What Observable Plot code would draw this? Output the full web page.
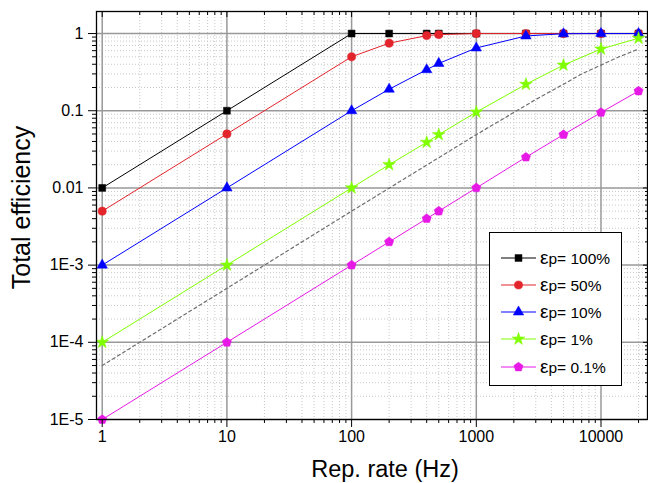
<!DOCTYPE html>
<html><head><meta charset="utf-8">
<script src="https://cdn.jsdelivr.net/npm/d3@7"></script>
<script src="https://cdn.jsdelivr.net/npm/@observablehq/plot@0.6"></script>
<style>
body{margin:0;background:#fff;font-family:"Liberation Sans",Arial,sans-serif}
#wrap{position:relative;width:648px;height:483px}
#legend{position:absolute;left:489px;top:232px;width:131px;height:152px;border:1px solid #000;background:#fff}
.row{position:absolute;left:0;height:20px;width:131px}
.row svg{position:absolute;left:0;top:0}
.row span{position:absolute;left:50px;top:0px;font-size:15.5px;line-height:20px;color:#000;white-space:nowrap}
.row span b{font-weight:normal;font-size:19px}
</style>
</head><body><div id="wrap"><div id="legend"></div></div>
<script>
// ---- data ----
const xs = [1, 10, 100, 200, 400, 500, 1000, 2500, 5000, 10000, 20000];
const eff100 = [0.01, 0.1, 1, 1, 1, 1, 1, 1, 1, 1, 1];
const eff50 = [0.005, 0.05, 0.5, 0.75, 0.94, 0.97, 1, 1, 1, 1, 1];
const eff10 = [0.001, 0.01, 0.1, 0.19, 0.34, 0.41, 0.65, 0.93, 0.995, 1, 1];
const eff1 = [1e-4, 1e-3, 0.01, 0.02, 0.039, 0.049, 0.096, 0.22, 0.39, 0.63, 0.87];
const eff01 = [1e-5, 1e-4, 1e-3, 2e-3, 4e-3, 5e-3, 0.01, 0.025, 0.049, 0.095, 0.18];
const refX = [1, 10, 100, 1000, 2000, 3000, 5000, 7000, 10000, 14000, 20000];
const refY = [5e-5, 5e-4, 0.005, 0.049, 0.095, 0.14, 0.22, 0.30, 0.39, 0.50, 0.63];
const labels = ["εp= 100%", "εp= 50%", "εp= 10%", "εp= 1%", "εp= 0.1%"];
const xTicks = [1, 10, 100, 1000, 10000];
const yTicks = [1e-5, 1e-4, 1e-3, 0.01, 0.1, 1];

// ---- styling ----
const pentagon = {
  draw(ctx, size) {
    const r = Math.sqrt(size / 2.3776);
    for (let k = 0; k < 5; k++) {
      const a = -Math.PI / 2 + k * 2 * Math.PI / 5;
      const px = r * Math.cos(a), py = r * Math.sin(a);
      k ? ctx.lineTo(px, py) : ctx.moveTo(px, py);
    }
    ctx.closePath();
  }
};
const values = [eff100, eff50, eff10, eff1, eff01];
const colors = ["#000000", "#e3242b", "#0000ff", "#80ff00", "#e619e6"];
const syms = [d3.symbolSquare, d3.symbolCircle, d3.symbolTriangle, d3.symbolStar, pentagon];
const radii = [3.9, 4.1, 3.9, 4, 4.2];

const minorX = [];
for (let e = 0; e <= 4; e++) for (let m = 2; m <= 9; m++) { const v = m * 10 ** e; if (v <= 23600) minorX.push(v); }
const minorY = [];
for (let e = -5; e <= 0; e++) for (let m = 2; m <= 9; m++) { const v = +(m * 10 ** e).toPrecision(3); if (v <= 1.93) minorY.push(v); }

const yFmt = d => d >= 0.01 ? String(d) : "1E" + Math.round(Math.log10(d));
const blank = () => "";

const marks = [
  Plot.gridX(minorX, {stroke: "#c8c8c8", strokeOpacity: 1, strokeDasharray: "1,2"}),
  Plot.gridY(minorY, {stroke: "#c8c8c8", strokeOpacity: 1, strokeDasharray: "1,2"}),
  Plot.gridX(xTicks, {stroke: "#999", strokeOpacity: 1, strokeWidth: 1.5}),
  Plot.gridY(yTicks, {stroke: "#999", strokeOpacity: 1, strokeWidth: 1.5}),
  Plot.line(refX, {x: refX, y: refY, stroke: "#6e6e6e", strokeWidth: 1.2, strokeDasharray: "3,3"})
];
values.forEach((v, i) => {
  marks.push(Plot.line(xs, {x: xs, y: v, stroke: colors[i], strokeWidth: 1}));
  marks.push(Plot.dot(xs, {x: xs, y: v, fill: colors[i], stroke: colors[i], strokeWidth: 0.5, symbol: syms[i], r: radii[i]}));
});
marks.push(
  Plot.frame({stroke: "#000", strokeWidth: 1.3}),
  Plot.axisX(xTicks, {anchor: "bottom", tickSize: 8, tickPadding: 3, tickFormat: d => String(d), label: null, fontSize: 16}),
  Plot.axisX(minorX, {anchor: "bottom", tickSize: 4, tickFormat: blank, label: null}),
  Plot.axisX(xTicks, {anchor: "top", tickSize: -5, tickFormat: blank, label: null}),
  Plot.axisX(minorX, {anchor: "top", tickSize: -3, tickFormat: blank, label: null}),
  Plot.axisY(yTicks, {anchor: "left", tickSize: 8, tickPadding: 5, tickFormat: yFmt, label: null, fontSize: 16}),
  Plot.axisY(minorY, {anchor: "left", tickSize: 4, tickFormat: blank, label: null}),
  Plot.axisY(yTicks, {anchor: "right", tickSize: -5, tickFormat: blank, label: null}),
  Plot.axisY(minorY, {anchor: "right", tickSize: -3, tickFormat: blank, label: null}),
  Plot.text(["Rep. rate (Hz)"], {frameAnchor: "bottom", dy: 50, dx: 13, fontSize: 23.5, lineAnchor: "middle", textAnchor: "middle", fill: "#000"}),
  Plot.text(["Total efficiency"], {frameAnchor: "left", dx: -75, dy: -8, rotate: -90, fontSize: 25, lineAnchor: "middle", textAnchor: "middle", fill: "#000"})
);

const chart = Plot.plot({
  width: 648, height: 483,
  marginLeft: 96, marginRight: 1, marginTop: 11, marginBottom: 64,
  x: {type: "log", domain: [0.9, 23600]},
  y: {type: "log", domain: [1e-5, 1.93]},
  style: {fontFamily: '"Liberation Sans", Arial, sans-serif', fontSize: "16px", color: "#000", background: "#fff", overflow: "visible"},
  marks
});
const wrap = document.getElementById("wrap");
wrap.insertBefore(chart, wrap.firstChild);

// ---- legend ----
const legend = document.getElementById("legend");
labels.forEach((lab, i) => {
  const row = document.createElement("div");
  row.className = "row";
  row.style.top = (25.7 + i * 27.2 - 10 - 1) + "px";
  const path = d3.symbol().type(syms[i]).size(Math.PI * radii[i] ** 2)();
  const txt = lab.replace("ε", "<b>ε</b>");
  row.innerHTML = `<svg width="50" height="20"><line x1="11" x2="46" y1="10" y2="10" stroke="${colors[i]}" stroke-width="1"/>` +
    `<path d="${path}" transform="translate(28.5,10)" fill="${colors[i]}" stroke="${colors[i]}" stroke-width="0.5"/></svg><span>${txt}</span>`;
  legend.appendChild(row);
});
</script></body></html>
